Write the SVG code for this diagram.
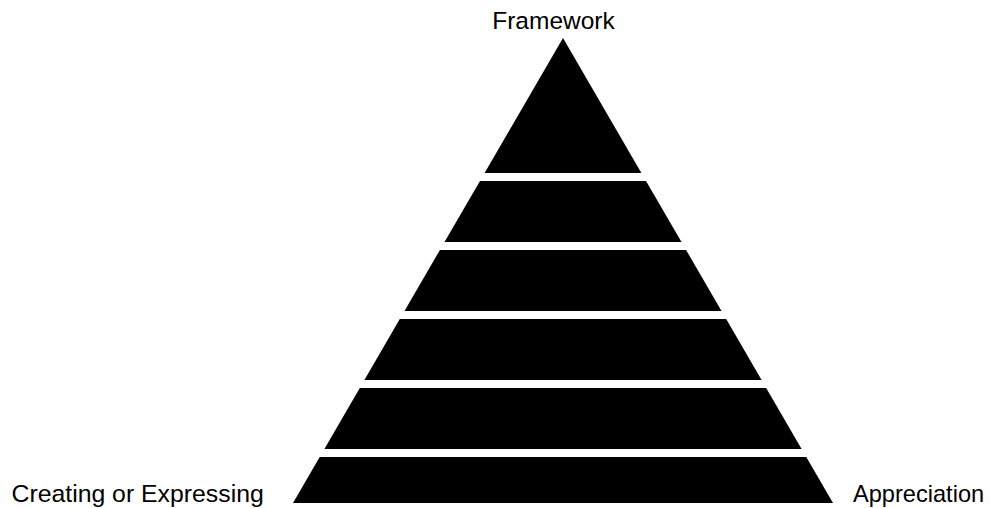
<svg xmlns="http://www.w3.org/2000/svg" width="991" height="508" viewBox="0 0 991 508">
<style>
.layer{fill:#000;stroke:none}
.lbl{font-family:"Liberation Sans",Arial,sans-serif;font-size:24.5px;fill:#000}
</style>
<rect width="991" height="508" fill="#fff"/>
<g id="pyramid">
<g id="layer1"><polygon class="layer" points="563,38 641.4,173 484.6,173"/></g>
<g id="layer2"><polygon class="layer" points="480,181 646,181 681.5,242 444.5,242"/></g>
<g id="layer3"><polygon class="layer" points="439.9,250 686.1,250 721.5,311 404.5,311"/></g>
<g id="layer4"><polygon class="layer" points="399.8,319 726.2,319 761.6,380 364.4,380"/></g>
<g id="layer5"><polygon class="layer" points="359.8,388 766.2,388 801.6,449 324.4,449"/></g>
<g id="layer6"><polygon class="layer" points="319.7,457 806.3,457 833,503 293,503"/></g>
</g>
<g id="labels">
<text class="lbl" x="553.5" y="29" text-anchor="middle">Framework</text>
<text class="lbl" x="11.5" y="502" style="font-size:24.8px">Creating or Expressing</text>
<text class="lbl" x="853" y="502" style="font-size:23.6px">Appreciation</text>
</g>
<g id="connectors"/>
</svg>
